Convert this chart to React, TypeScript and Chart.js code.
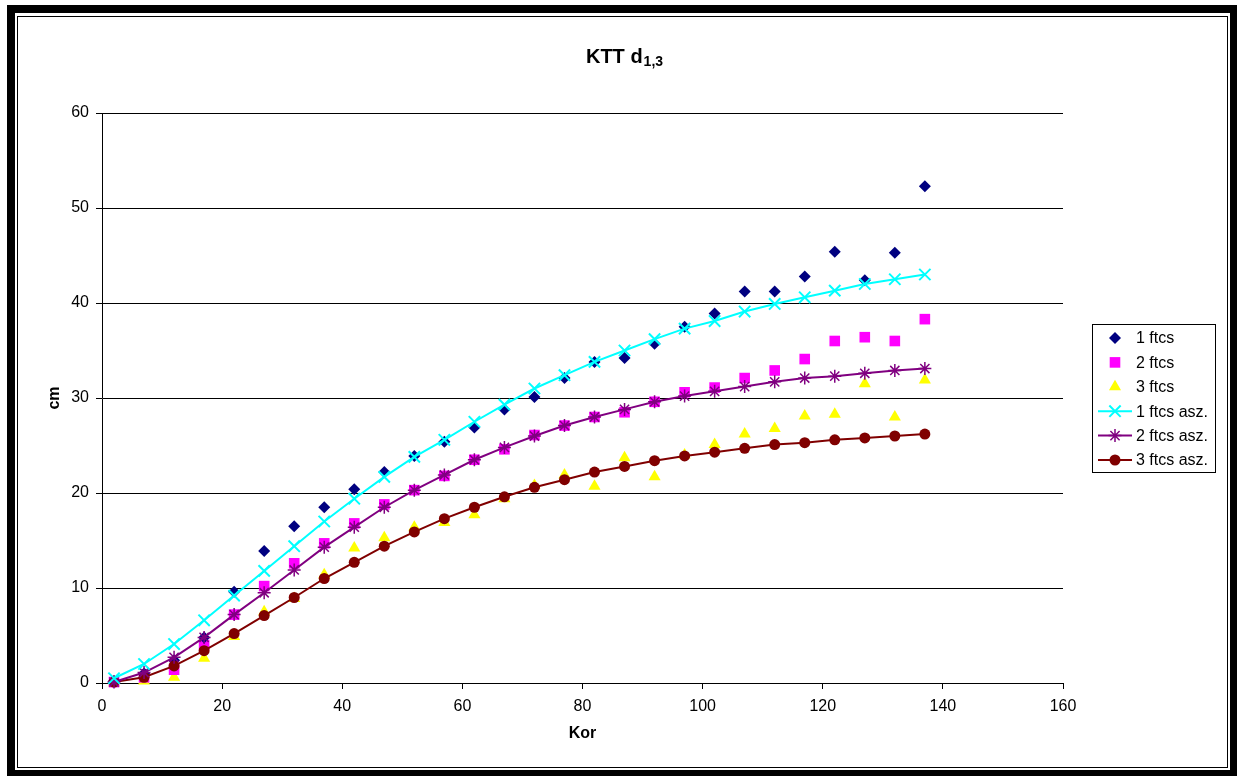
import React, { useEffect, useRef } from 'react';
import { Chart, registerables } from 'chart.js';

Chart.register(...registerables);

const FONT = '"Liberation Sans", Arial, Helvetica, sans-serif';

const TITLE_MAIN = 'KTT d';
const TITLE_SUB = '1,3';
const X_TITLE = 'Kor';
const Y_TITLE = 'cm';

const kor = [2, 7, 12, 17, 22, 27, 32, 37, 42, 47, 52, 57, 62, 67, 72, 77, 82, 87, 92, 97, 102, 107, 112, 117, 122, 127, 132, 137];

const ftcs1 = [0.2, 1.0, 2.4, 4.8, 9.6, 13.9, 16.5, 18.5, 20.4, 22.2, 23.9, 25.4, 26.9, 28.8, 30.1, 32.1, 33.8, 34.2, 35.7, 37.5, 38.9, 41.2, 41.2, 42.8, 45.4, 42.4, 45.3, 52.3];
const ftcs2 = [0.1, 0.6, 1.4, 4.0, 7.2, 10.2, 12.6, 14.7, 16.8, 18.8, 20.3, 21.8, 23.5, 24.6, 26.1, 27.1, 28.0, 28.5, 29.6, 30.6, 31.1, 32.1, 32.9, 34.1, 36.0, 36.4, 36.0, 38.3];
const ftcs3 = [0.0, 0.2, 0.6, 2.6, 4.9, 7.5, 8.9, 11.4, 14.2, 15.3, 16.4, 16.9, 17.7, 19.4, 20.8, 21.9, 20.7, 23.7, 21.7, 24.0, 25.1, 26.2, 26.8, 28.1, 28.3, 31.5, 28.0, 31.9];
const asz1 = [0.5, 2.0, 4.1, 6.6, 9.2, 11.8, 14.4, 17.0, 19.4, 21.7, 23.8, 25.6, 27.5, 29.3, 31.0, 32.4, 33.8, 35.0, 36.2, 37.3, 38.1, 39.1, 39.9, 40.6, 41.3, 42.0, 42.5, 43.0];
const asz2 = [0.1, 1.1, 2.7, 4.8, 7.2, 9.5, 11.9, 14.3, 16.4, 18.5, 20.3, 21.9, 23.5, 24.8, 26.0, 27.1, 28.0, 28.8, 29.6, 30.2, 30.7, 31.2, 31.7, 32.1, 32.3, 32.6, 32.9, 33.1];
const asz3 = [0.1, 0.6, 1.8, 3.4, 5.2, 7.1, 9.0, 11.0, 12.7, 14.4, 15.9, 17.3, 18.5, 19.6, 20.6, 21.4, 22.2, 22.8, 23.4, 23.9, 24.3, 24.7, 25.1, 25.3, 25.6, 25.8, 26.0, 26.2];

const seriesLabels = ['1 ftcs', '2 ftcs', '3 ftcs', '1 ftcs asz.', '2 ftcs asz.', '3 ftcs asz.'];

const toPoints = (ys: number[]) => ys.map((y, i) => ({ x: kor[i], y }));

function drawMarker(ctx: CanvasRenderingContext2D, style: string, x: number, y: number, r: number, color: string, bw: number) {
  ctx.save();
  ctx.fillStyle = color;
  ctx.strokeStyle = color;
  ctx.lineWidth = bw;
  ctx.beginPath();
  if (style === 'rectRot') {
    ctx.moveTo(x, y - r); ctx.lineTo(x + r, y); ctx.lineTo(x, y + r); ctx.lineTo(x - r, y); ctx.closePath(); ctx.fill();
  } else if (style === 'rect') {
    const s = r * Math.SQRT1_2;
    ctx.rect(x - s, y - s, 2 * s, 2 * s); ctx.fill();
  } else if (style === 'triangle') {
    const a = (2 * Math.PI) / 3;
    ctx.moveTo(x, y - r);
    ctx.lineTo(x + Math.sin(a) * r, y - Math.cos(a) * r);
    ctx.lineTo(x - Math.sin(a) * r, y - Math.cos(a) * r);
    ctx.closePath(); ctx.fill();
  } else if (style === 'crossRot') {
    const d = r * Math.SQRT1_2;
    ctx.moveTo(x - d, y - d); ctx.lineTo(x + d, y + d);
    ctx.moveTo(x + d, y - d); ctx.lineTo(x - d, y + d);
    ctx.stroke();
  } else if (style === 'star') {
    const d = r * Math.SQRT1_2;
    ctx.moveTo(x - d, y - d); ctx.lineTo(x + d, y + d);
    ctx.moveTo(x + d, y - d); ctx.lineTo(x - d, y + d);
    ctx.moveTo(x, y - r); ctx.lineTo(x, y + r);
    ctx.moveTo(x - r, y); ctx.lineTo(x + r, y);
    ctx.stroke();
  } else {
    ctx.arc(x, y, r, 0, Math.PI * 2); ctx.fill();
  }
  ctx.restore();
}

const decorPlugin = {
  id: 'decor',
  beforeDraw(chart: any) {
    const ctx = chart.ctx as CanvasRenderingContext2D;
    const W = chart.width, H = chart.height;
    ctx.save();
    ctx.fillStyle = '#fff';
    ctx.fillRect(0, 0, W, H);
    ctx.fillStyle = '#000';
    ctx.fillRect(7, 5, W - 7, H - 5);
    ctx.fillStyle = '#fff';
    ctx.fillRect(15, 13, 1230 - 15, 770 - 13);
    ctx.strokeStyle = '#000';
    ctx.lineWidth = 1;
    ctx.strokeRect(17.5, 16.5, 1227.5 - 17.5, 767.5 - 16.5);
    ctx.restore();
  },
  afterDraw(chart: any) {
    const ctx = chart.ctx as CanvasRenderingContext2D;
    ctx.save();
    ctx.fillStyle = '#000';
    ctx.textBaseline = 'alphabetic';
    ctx.textAlign = 'left';
    ctx.font = `bold 20px ${FONT}`;
    const w1 = ctx.measureText(TITLE_MAIN).width;
    ctx.font = `bold 14px ${FONT}`;
    const w2 = ctx.measureText(TITLE_SUB).width;
    const x0 = 624 - (w1 + w2) / 2;
    ctx.font = `bold 20px ${FONT}`;
    ctx.fillText(TITLE_MAIN, x0, 63);
    ctx.font = `bold 14px ${FONT}`;
    ctx.fillText(TITLE_SUB, x0 + w1 + 1, 66);

    ctx.strokeStyle = '#000';
    ctx.lineWidth = 1;
    ctx.strokeRect(1092.5, 324.5, 123, 148);
    ctx.font = `16px ${FONT}`;
    ctx.textBaseline = 'middle';
    chart.data.datasets.forEach((ds: any, i: number) => {
      const y = 338 + i * 24.4;
      if (ds.showLine) {
        ctx.strokeStyle = ds.borderColor;
        ctx.lineWidth = 2;
        ctx.beginPath();
        ctx.moveTo(1098, y);
        ctx.lineTo(1132, y);
        ctx.stroke();
      }
      const col = ds.pointBackgroundColor;
      drawMarker(ctx, ds.pointStyle, 1115, y, ds.pointRadius, col === 'transparent' ? ds.pointBorderColor : col, ds.pointBorderWidth);
      ctx.fillStyle = '#000';
      ctx.fillText(ds.label, 1136, y + 1);
    });
    ctx.restore();
  },
};

export default function App() {
  const ref = useRef<HTMLCanvasElement | null>(null);

  useEffect(() => {
    if (!ref.current) return;
    const scatterBase = { showLine: false, clip: false as any, order: 1 };
    const lineBase = { showLine: true, clip: false as any, order: 0, borderWidth: 2, tension: 0 };
    const chart = new Chart(ref.current, {
      type: 'scatter',
      data: {
        datasets: [
          { ...scatterBase, label: seriesLabels[0], data: toPoints(ftcs1), pointStyle: 'rectRot', pointRadius: 6, pointBackgroundColor: '#000080', pointBorderColor: '#000080', pointBorderWidth: 0 },
          { ...scatterBase, label: seriesLabels[1], data: toPoints(ftcs2), pointStyle: 'rect', pointRadius: 7.5, pointBackgroundColor: '#FF00FF', pointBorderColor: '#FF00FF', pointBorderWidth: 0 },
          { ...scatterBase, label: seriesLabels[2], data: toPoints(ftcs3), pointStyle: 'triangle', pointRadius: 7, pointBackgroundColor: '#FFFF00', pointBorderColor: '#FFFF00', pointBorderWidth: 0 },
          { ...lineBase, label: seriesLabels[3], data: toPoints(asz1), borderColor: '#00FFFF', pointStyle: 'crossRot', pointRadius: 8, pointBackgroundColor: 'transparent', pointBorderColor: '#00FFFF', pointBorderWidth: 2 },
          { ...lineBase, label: seriesLabels[4], data: toPoints(asz2), borderColor: '#800080', pointStyle: 'star', pointRadius: 6.5, pointBackgroundColor: 'transparent', pointBorderColor: '#800080', pointBorderWidth: 1.5 },
          { ...lineBase, label: seriesLabels[5], data: toPoints(asz3), borderColor: '#800000', pointStyle: 'circle', pointRadius: 5.5, pointBackgroundColor: '#800000', pointBorderColor: '#800000', pointBorderWidth: 0 },
        ],
      },
      options: {
        animation: false,
        responsive: false,
        devicePixelRatio: 1,
        events: [],
        layout: { padding: { left: 0, top: 113, right: 1237 - 1063, bottom: 0 } },
        plugins: { legend: { display: false }, title: { display: false }, tooltip: { enabled: false } },
        scales: {
          x: {
            type: 'linear',
            min: 0,
            max: 160,
            afterFit: (s: any) => { s.height = 776 - 683; },
            ticks: { stepSize: 20, color: '#000', font: { family: FONT, size: 16 }, padding: 8, maxRotation: 0 },
            grid: { drawOnChartArea: false, drawTicks: true, tickLength: 6, color: '#000', lineWidth: 1 },
            border: { display: true, color: '#000', width: 1 },
            title: { display: true, text: X_TITLE, color: '#000', font: { family: FONT, size: 16, weight: 'bold' }, padding: { top: 0, bottom: 33 } },
          },
          y: {
            type: 'linear',
            min: 0,
            max: 60,
            afterFit: (s: any) => { s.width = 102; },
            ticks: { stepSize: 10, color: '#000', font: { family: FONT, size: 16 }, padding: 7 },
            grid: { drawOnChartArea: true, drawTicks: true, tickLength: 6, color: '#000', lineWidth: 1 },
            border: { display: true, color: '#000', width: 1 },
            title: { display: true, text: Y_TITLE, color: '#000', font: { family: FONT, size: 16, weight: 'bold' }, padding: { top: 45, bottom: 0 } },
          },
        },
      },
      plugins: [decorPlugin],
    } as any);
    return () => chart.destroy();
  }, []);

  return (
    <div style={{ position: 'fixed', left: 0, top: 0, width: 1237, height: 776, background: '#fff' }}>
      <canvas ref={ref} width={1237} height={776} style={{ display: 'block', width: 1237, height: 776 }} />
    </div>
  );
}
